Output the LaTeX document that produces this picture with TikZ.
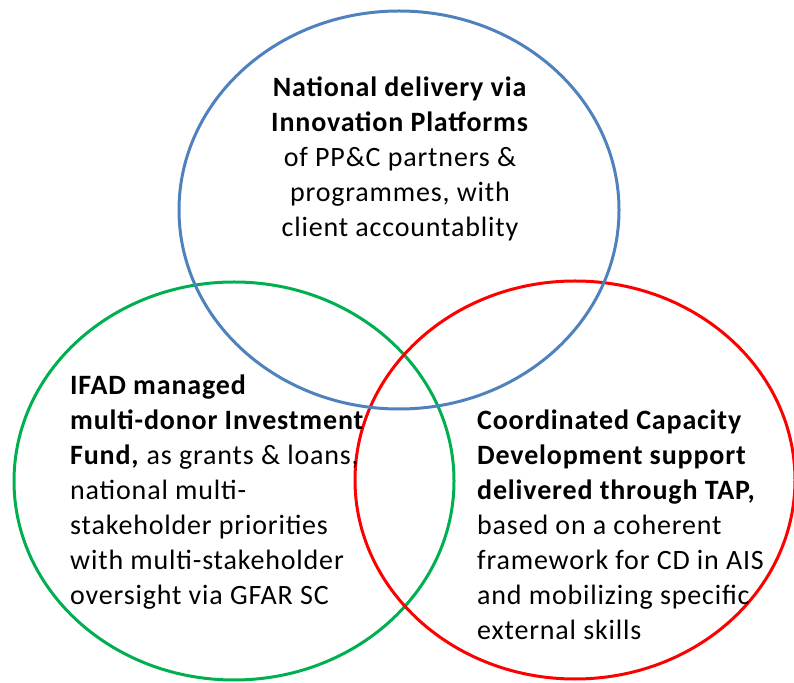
\documentclass[tikz,border=0pt]{standalone}
\usepackage{fontspec}
\setmainfont{Carlito}[LetterSpace=3]
\usepackage{tikz}
\usetikzlibrary{shapes.geometric}
\definecolor{platblue}{RGB}{79,129,189}
\definecolor{fundgreen}{RGB}{0,176,80}
\definecolor{capred}{RGB}{255,0,0}

\begin{document}
\begin{tikzpicture}[x=1pt,y=1pt]
  \tikzstyle{ring}=[ellipse,draw,line width=3pt,minimum width=440pt,minimum height=398pt,inner sep=0pt]
  \tikzstyle{ring text}=[inner sep=0pt,text=black,font=\fontsize{28}{35}\selectfont]

  \useasboundingbox (0,0) rectangle (794,682);

  \node[ring,draw=fundgreen]  (F) at (234,201) {};
  \node[ring,draw=capred]     (C) at (575,202) {};
  \node[ring,draw=platblue]   (P) at (399,472) {};

  \node[ring text,align=center]           (Ptext) at (400,523) {\textbf{National delivery via}\\ \textbf{Innovation Platforms}\\ of PP\&C partners \&\\ programmes, with\\ client accountablity};
  \node[ring text,align=left,anchor=west] (Ftext) at (70,190)  {\textbf{IFAD managed}\\ \textbf{multi-donor Investment}\\ \textbf{Fund,} as grants \& loans,\\ national multi-\\ stakeholder priorities\\ with multi-stakeholder\\ oversight via GFAR SC};
  \node[ring text,align=left,anchor=west] (Ctext) at (477,157) {\textbf{Coordinated Capacity}\\ \textbf{Development support}\\ \textbf{delivered through TAP,}\\ based on a coherent\\ framework for CD in AIS\\ and mobilizing specific\\ external skills};
\end{tikzpicture}
\end{document}
